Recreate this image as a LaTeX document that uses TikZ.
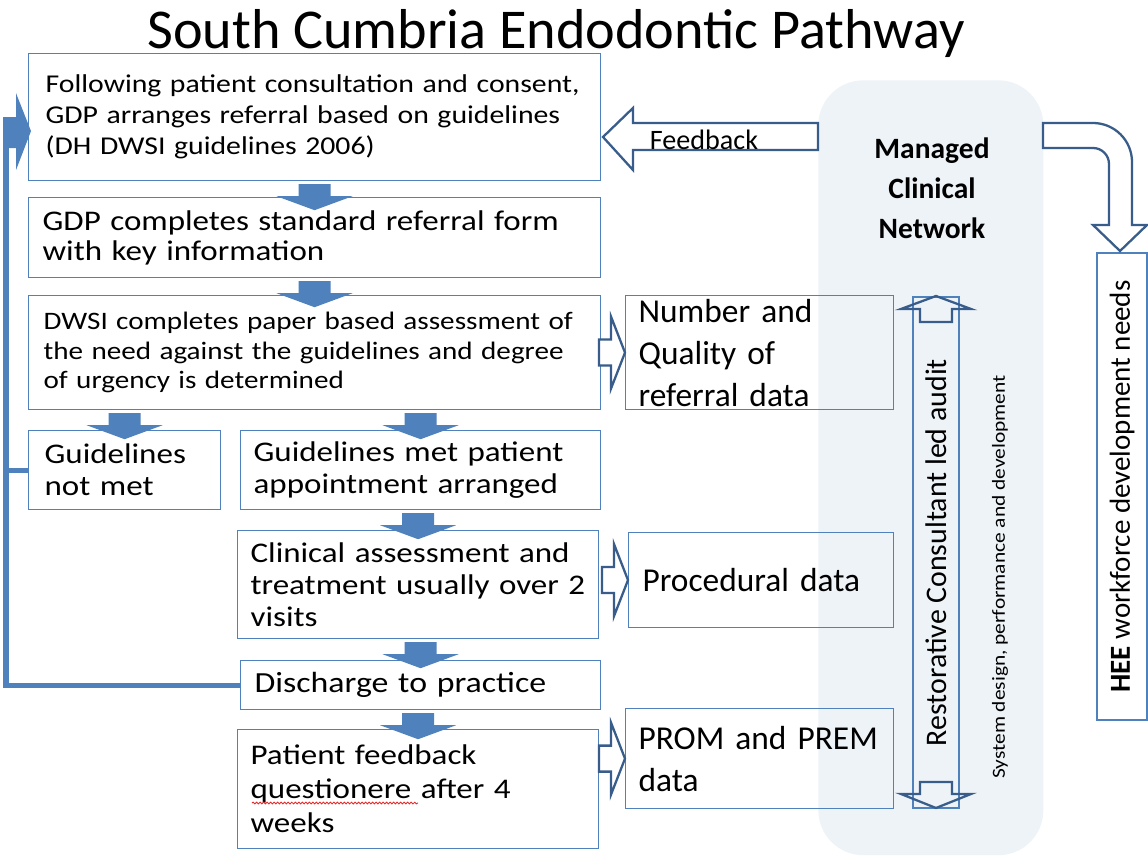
\documentclass[tikz,border=0pt]{standalone}
\usepackage{fontspec}
\setmainfont{Carlito}
\newfontfamily\widefont[FakeStretch=1.16]{Carlito}
\usetikzlibrary{calc,decorations.pathmorphing}

\begin{document}
\begin{tikzpicture}[x=0.02cm, y=-0.02cm,
		box/.style={draw=boxline, line width=0.7pt, anchor=north west, align=left, inner ysep=0pt},
		steptext/.style={font=\widefont\fontsize{16.2}{18.2}\selectfont},
		datatext/.style={font=\fontsize{19}{23.9}\selectfont},
		hollow/.style={draw=hollowline, line width=1.3pt, fill=white},
		loopline/.style={draw=arrowblue, line width=2.85pt},
		downblock/.pic={\fill[arrowblue] (-16,0) -- (16,0) -- (16,12) -- (38,12) -- (0,26) -- (-38,12) -- (-16,12) -- cycle;},
		hollowright/.pic={\draw[hollow] (-26,-13) -- (-14,-13) -- (-14,-36) -- (0,0) -- (-14,36) -- (-14,13) -- (-26,13) -- cycle;},
		loophead/.pic={\fill[arrowblue] (-28,-14) -- (-15,-14) -- (-15,-38) -- (0,0) -- (-15,39) -- (-15,17) -- (-28,17) -- cycle;}]
	\definecolor{boxline}{RGB}{79,129,189}
	\definecolor{arrowblue}{RGB}{79,129,189}
	\definecolor{hollowline}{RGB}{56,93,138}
	\definecolor{mcnfill}{RGB}{238,243,248}
	\definecolor{spellred}{RGB}{230,40,40}

	\useasboundingbox (0,0) rectangle (1148,857);
	\fill[white] (0,0) rectangle (1148,857);

	\node[fill=mcnfill, rounded corners=0.9cm, minimum width=4.5cm, minimum height=15.5cm, anchor=north west, inner sep=0pt] (mcn) at (818,80) {};
	\node[font=\fontsize{32}{38}\selectfont, anchor=base] (title) at (556,49) {South Cumbria Endodontic Pathway};

	\node[box, steptext, font=\widefont\fontsize{14.6}{17.6}\selectfont, minimum width=11.44cm, minimum height=2.54cm, inner xsep=0.34cm, text width=10.76cm] (b1) at (28,53)
		{Following patient consultation and consent,\\GDP arranges referral based on guidelines\\(DH DWSI guidelines 2006)};
	\node[box, steptext, font=\widefont\fontsize{16.2}{17.1}\selectfont, minimum width=11.44cm, minimum height=1.6cm, inner xsep=0.28cm, text width=10.88cm] (b2) at (28,197)
		{GDP completes standard referral form\\with key information};
	\node[box, steptext, font=\widefont\fontsize{14.3}{16.6}\selectfont, minimum width=11.44cm, minimum height=2.28cm, inner xsep=0.3cm, text width=10.84cm] (b3) at (28,295)
		{DWSI completes paper based assessment of\\the need against the guidelines and degree\\of urgency is determined};
	\node[box, steptext, minimum width=3.84cm, minimum height=1.58cm, inner xsep=0.32cm, text width=3.2cm] (b4) at (28,430)
		{Guidelines\\not met};
	\node[box, steptext, minimum width=7.2cm, minimum height=1.58cm, inner xsep=0.26cm, text width=6.68cm] (b5) at (240,430)
		{Guidelines met patient\\appointment arranged};
	\node[box, steptext, minimum width=7.22cm, minimum height=2.16cm, inner xsep=0.26cm, text width=6.7cm] (b6) at (237,530)
		{Clinical assessment and\\treatment usually over 2\\visits};
	\node[box, steptext, font=\widefont\fontsize{16.6}{18.2}\selectfont, minimum width=7.2cm, minimum height=0.98cm, inner xsep=0.28cm, text width=6.64cm] (b7) at (240,660)
		{Discharge to practice};
	\node[box, steptext, font=\widefont\fontsize{16.2}{19.3}\selectfont, minimum width=7.22cm, minimum height=2.38cm, inner xsep=0.26cm, text width=6.7cm] (b8) at (237,729)
		{Patient feedback\\questionere after 4\\weeks};

	\node[box, datatext, minimum width=5.36cm, minimum height=2.28cm, inner xsep=0.26cm, text width=4.84cm] (d1) at (625,295)
		{Number and\\Quality of\\referral data};
	\node[box, datatext, minimum width=5.3cm, minimum height=1.9cm, inner xsep=0.28cm, text width=4.74cm] (d2) at (628,532)
		{Procedural data};
	\node[box, datatext, minimum width=5.36cm, minimum height=2.0cm, inner xsep=0.26cm, text width=4.84cm] (d3) at (625,708)
		{PROM and PREM\\data};

	\coordinate (loopin) at ($(b1.west)+(3,14)$);
	\draw[loopline] (b7.west) -| ($(loopin)+(-25,17)$);
	\draw[loopline] (b4.west) -- ++(-22,0);
	\pic at (loopin) {loophead};

	\pic at ($(b1.south)+(0,3)$) {downblock};
	\pic at ($(b2.south)+(0,3)$) {downblock};
	\pic at ($(b4.north |- b3.south)+(0,3)$) {downblock};
	\pic at ($(b5.north |- b3.south)+(0,3)$) {downblock};
	\pic at ($(b6.north |- b5.south)+(0,3)$) {downblock};
	\pic at ($(b7.north |- b6.south)+(0,3)$) {downblock};
	\pic at ($(b8.north |- b7.south)+(0,3)$) {downblock};

	\pic at (d1.west) {hollowright};
	\pic at (d2.west) {hollowright};
	\pic at (d3.west) {hollowright};

	\draw[spellred, line width=0.5pt, decorate, decoration={snake, amplitude=0.5pt, segment length=2pt}] (252,803) -- (418,803);

	\draw[hollow] (818,123) -- (633,123) -- (633,108) -- (603,137) -- (633,170) -- (633,150) -- (818,150) -- cycle;
	\node[font=\fontsize{16}{19}\selectfont, anchor=base] (feedback) at (704,150) {Feedback};

	\node[font=\bfseries\fontsize{16.8}{22.7}\selectfont, align=center] (mcnlabel) at (932,188) {Managed\\Clinical\\Network};

	\node[draw=boxline, line width=0.7pt, rotate=90, minimum width=10.22cm, minimum height=0.92cm, inner sep=0pt, font=\fontsize{17}{20}\selectfont] (audit) at (936,552.5) {Restorative Consultant led audit};
	\draw[hollow, fill=none] (920,322) -- (920,309) -- (901,309) -- (936,296) -- (971,309) -- (952,309) -- (952,322) -- cycle;
	\draw[hollow, fill=none] (920,782) -- (920,794) -- (901,794) -- (936,808) -- (971,794) -- (952,794) -- (952,782) -- cycle;
	\node[rotate=90, font=\widefont\fontsize{10.5}{12}\selectfont] (sysdev) at (1000,577) {System design, performance and development};

	\node[box, anchor=center, rotate=90, minimum width=9.34cm, minimum height=1.0cm, inner sep=0pt, align=center, font=\fontsize{16.5}{20}\selectfont] (hee) at (1122,486.5) {\textbf{HEE} workforce development needs};
	\draw[hollow] (1043,123) -- (1093,123) arc[start angle=-90, end angle=0, radius=39] -- (1132,225) -- (1147,225) -- (1120,251) -- (1093,225) -- (1109,225) -- (1109,164) arc[start angle=0, end angle=-90, radius=16] -- (1043,148) -- cycle;
\end{tikzpicture}
\end{document}
